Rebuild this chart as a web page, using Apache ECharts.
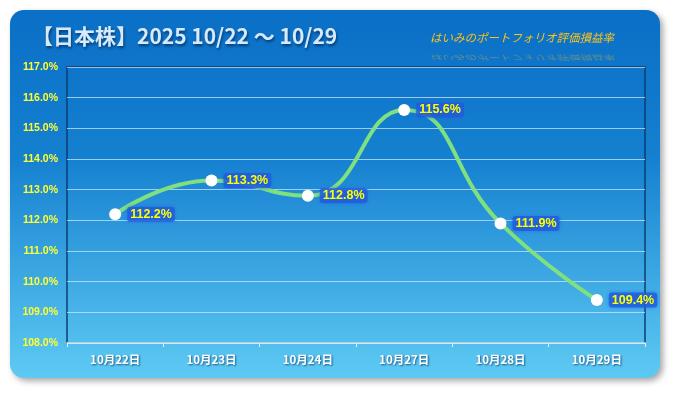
<!DOCTYPE html>
<html><head><meta charset="utf-8">
<script src="https://cdn.jsdelivr.net/npm/echarts@6/dist/echarts.min.js"></script>
<style>html,body{margin:0;padding:0;background:#fff}#c{width:675px;height:393px}</style>
</head><body><div id="c"></div>
<script>
const categories = ['10月22日','10月23日','10月24日','10月27日','10月28日','10月29日'];
const values = [112.2, 113.3, 112.8, 115.6, 111.9, 109.4];
const yMin = 108, yMax = 117, yStep = 1;
const titleText = '【日本株】2025 10/22 ～ 10/29';
const subText = 'はいみのポートフォリオ評価損益率';

const chart = echarts.init(document.getElementById('c'));
chart.setOption({
  animation: false,
  graphic: [
    { type: 'rect', z: -10, shape: { x: 10, y: 10, width: 650, height: 368, r: 14 },
      style: { fill: new echarts.graphic.LinearGradient(0,0,0,1,[{offset:0,color:'#0A6FC6'},{offset:0.4,color:'#1580D0'},{offset:1,color:'#5ECAF3'}]),
        shadowBlur: 6, shadowOffsetX: 3, shadowOffsetY: 3, shadowColor: 'rgba(0,0,0,0.35)' } },
    { type: 'text', z: 10, left: 32, top: 26, style: { text: titleText, fill: '#D6EAFA', font: 'bold 21px "Noto Sans CJK JP", sans-serif',
        textShadowColor: 'rgba(0,30,80,0.7)', textShadowBlur: 3, textShadowOffsetX: 1, textShadowOffsetY: 2 } },
    { type: 'text', z: 10, left: 430, top: 32, style: { text: subText, fill: '#FFC21A', font: 'italic 11.5px "Noto Sans CJK JP", sans-serif' } },
    { type: 'text', z: 9, x: 430, y: 61, scaleY: -0.6, style: { text: subText, fill: 'rgba(255,194,26,0.35)', font: 'italic 11.5px "Noto Sans CJK JP", sans-serif' } }
  ],
  grid: { left: 67, right: 30, top: 67, bottom: 50, show: true, borderColor: '#0D3E70', borderWidth: 1.5, backgroundColor: 'transparent' },
  xAxis: {
    type: 'category', data: categories, boundaryGap: true,
    axisLine: { lineStyle: { color: '#E6F4FF', width: 1.5 } },
    axisTick: { show: true, length: 4, lineStyle: { color: '#E6F4FF' } },
    axisLabel: { color: '#FFFFFF', fontWeight: 'bold', fontSize: 11.5, margin: 11, fontFamily: '"Noto Sans CJK JP", sans-serif',
      textShadowColor: 'rgba(0,40,90,0.7)', textShadowBlur: 2, textShadowOffsetX: 1, textShadowOffsetY: 1 },
    splitLine: { show: false }
  },
  yAxis: {
    type: 'value', min: yMin, max: yMax, interval: yStep,
    axisLine: { show: false }, axisTick: { show: false },
    axisLabel: { color: '#FFFF33', fontSize: 10.5, fontWeight: 'bold', margin: 9, fontFamily: '"Liberation Sans", sans-serif',
      formatter: v => v.toFixed(1) + '%' },
    splitLine: { lineStyle: { color: 'rgba(200,230,255,0.75)', width: 1 } }
  },
  series: [{
    type: 'line', data: values, smooth: 0.5,
    lineStyle: { color: '#7FE07F', width: 4 },
    itemStyle: { color: '#FFFFFF', borderWidth: 0 },
    symbol: 'circle', symbolSize: 12,
    label: { show: true, position: 'right', distance: 6, formatter: p => p.value.toFixed(1) + '%',
      color: '#FFFF00', fontWeight: 'bold', fontSize: 12.5, fontFamily: '"Liberation Sans", sans-serif',
      backgroundColor: 'rgba(30,90,220,0.75)', padding: [1, 3], borderRadius: 3,
      shadowColor: 'rgba(40,100,230,0.9)', shadowBlur: 4 }
  }]
});
</script></body></html>
